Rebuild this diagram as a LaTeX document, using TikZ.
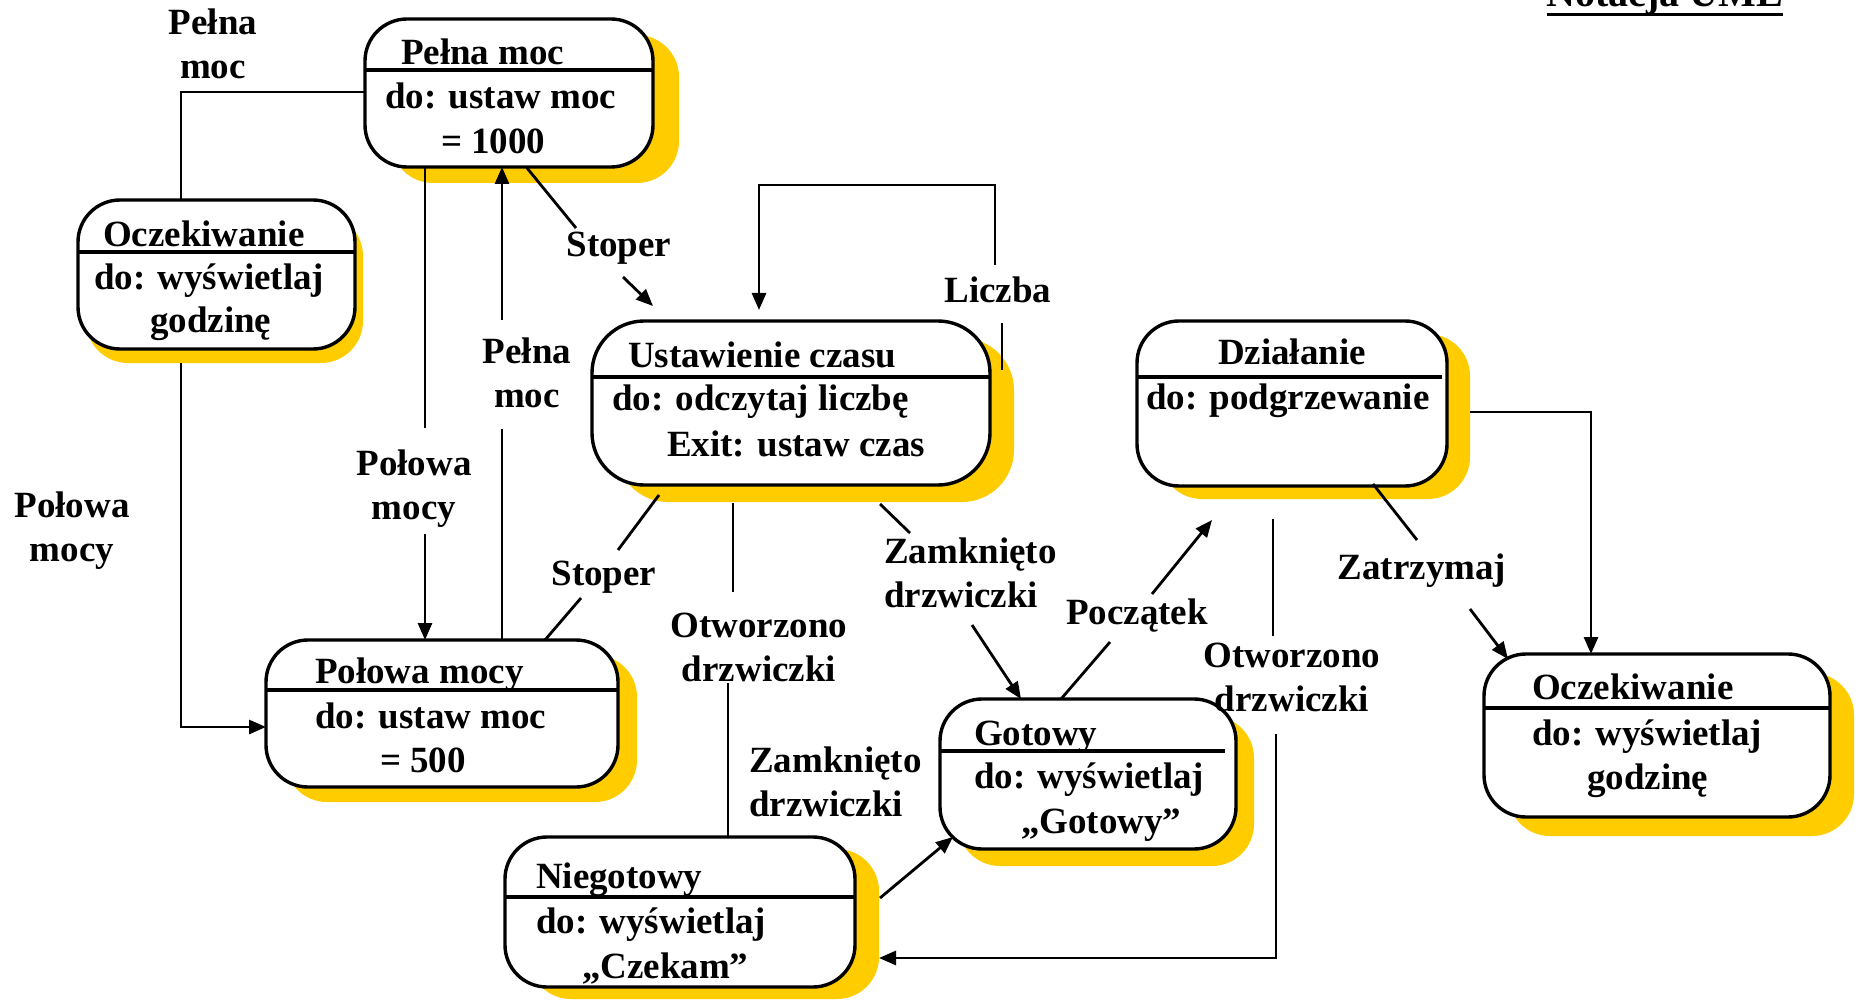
\documentclass[tikz,border=0pt]{standalone}
\usepackage{fontspec}
\setmainfont{Liberation Serif}
\usetikzlibrary{arrows.meta,shadows}
\definecolor{shadowyellow}{RGB}{255,204,0}
% two-line labels whose anchor is the baseline of the first line
\newcommand{\stackc}[2]{\begin{tabular}[t]{@{}c@{}}#1\\#2\end{tabular}}
\newcommand{\stackl}[2]{\begin{tabular}[t]{@{}l@{}}#1\\#2\end{tabular}}
\tikzset{
  every node/.style={inner sep=0pt, outer sep=0pt},
  bigfont/.style={font=\fontsize{37}{44}\selectfont\bfseries},
  txt/.style={bigfont, anchor=base west},
  lbl/.style={bigfont, anchor=base},
  lbll/.style={bigfont, anchor=base west},
  statebox/.style={rectangle, draw, line width=3.4pt, rounded corners=42pt, fill=white},
  sh/.style 2 args={drop shadow={shadow xshift=#1pt, shadow yshift=-#2pt, fill=shadowyellow, draw=none, opacity=1}},
  divider/.style={line width=3.2pt},
  conn/.style={line width=2.8pt},
  arr/.style={conn, -{Triangle[length=17pt,width=14pt]}},
}
\begin{document}
\begin{tikzpicture}[x=1pt,y=-1pt]
\useasboundingbox (0,0) rectangle (1858,1000);
\clip (0,0) rectangle (1858,1000);
\fill[white] (0,0) rectangle (1858,1000);

% ---------- title ----------
\node[font=\fontsize{40}{48}\selectfont\bfseries, anchor=base] (title) at (1665,7) {Notacja UML};
\draw[line width=3.5pt] ([yshift=-7.5pt]title.base west) -- ([yshift=-7.5pt]title.base east);

% ---------- states ----------
\node[statebox, sh={26}{16}, minimum width=288pt, minimum height=148pt] (pm) at (509,93) {};
\node[statebox, sh={8}{14}, minimum width=277pt, minimum height=149pt] (ocz1) at (216.5,274.5) {};
\node[statebox, sh={24}{17}, rounded corners=52pt, minimum width=398pt, minimum height=164pt] (ust) at (791,403) {};
\node[statebox, sh={23}{13}, minimum width=310pt, minimum height=165pt] (dzi) at (1292,403.5) {};
\node[statebox, sh={19}{15}, minimum width=352pt, minimum height=147pt] (pol) at (442,713.5) {};
\node[statebox, sh={18}{17}, minimum width=296pt, minimum height=150pt] (got) at (1088,774) {};
\node[statebox, sh={24}{12}, minimum width=350pt, minimum height=150pt] (nie) at (680,912) {};
\node[statebox, sh={24}{19}, minimum width=346pt, minimum height=163pt] (ocz2) at (1657,735.5) {};

% compartments
\draw[divider] ([yshift=-51pt]pm.north west) -- ([yshift=-51pt]pm.north east);
\draw[divider] ([yshift=-52pt]ocz1.north west) -- ([yshift=-52pt]ocz1.north east);
\draw[divider] ([yshift=-56pt]ust.north west) -- ([yshift=-56pt]ust.north east);
\draw[divider] ([yshift=-56pt]dzi.north west) -- ([xshift=-5pt,yshift=-56pt]dzi.north east);
\draw[divider] ([yshift=-50pt]pol.north west) -- ([yshift=-50pt]pol.north east);
\draw[divider] ([yshift=-52pt]got.north west) -- ([xshift=-11pt,yshift=-52pt]got.north east);
\draw[divider] ([yshift=-60pt]nie.north west) -- ([yshift=-60pt]nie.north east);
\draw[divider] ([yshift=-54pt]ocz2.north west) -- ([yshift=-54pt]ocz2.north east);

% state texts
\node[txt] (pm-n) at (401,65) {Pełna moc};
\node[txt] (pm-d1) at (385,109) {do: ustaw moc};
\node[txt] (pm-d2) at (441,154) {= 1000};

\node[txt] (ocz1-n) at (103,247) {Oczekiwanie};
\node[txt] (ocz1-d1) at (94,290) {do: wyświetlaj};
\node[txt] (ocz1-d2) at (150,333) {godzinę};

\node[txt] (ust-n) at (628,367) {Ustawienie czasu};
\node[txt] (ust-d1) at (612,410) {do: odczytaj liczbę};
\node[txt] (ust-d2) at (667,456) {Exit: ustaw czas};

\node[lbl] (dzi-n) at (1292,364) {Działanie};
\node[txt] (dzi-d1) at (1146,409) {do: podgrzewanie};

\node[txt] (pol-n) at (315,683) {Połowa mocy};
\node[txt] (pol-d1) at (315,728) {do: ustaw moc};
\node[txt] (pol-d2) at (380,772) {= 500};

\node[txt] (got-n) at (974,745) {Gotowy};
\node[txt] (got-d1) at (974,788) {do: wyświetlaj};
\node[txt] (got-d2) at (1021,833) {„Gotowy”};

\node[txt] (nie-n) at (536,888) {Niegotowy};
\node[txt] (nie-d1) at (536,933) {do: wyświetlaj};
\node[txt] (nie-d2) at (582,978) {„Czekam”};

\node[txt] (ocz2-n) at (1532,699) {Oczekiwanie};
\node[txt] (ocz2-d1) at (1532,745) {do: wyświetlaj};
\node[txt] (ocz2-d2) at (1587,789) {godzinę};

% ---------- transition labels ----------
\node[lbl] (l-pm1) at (213,35) {\stackc{Pełna}{moc}};
\node[lbl] (l-pol1) at (72,517) {\stackc{Połowa}{mocy}};
\node[lbl] (l-pol2) at (414,475) {\stackc{Połowa}{mocy}};
\node[lbl] (l-pm2) at (527,363) {\stackc{Pełna}{moc}};
\node[lbl] (l-st1) at (619,257) {Stoper};
\node[lbl] (l-lic) at (998,303) {Liczba};
\node[lbl] (l-st2) at (604,585) {Stoper};
\node[lbl] (l-otw1) at (759,637) {\stackc{Otworzono}{drzwiczki}};
\node[lbll] (l-zam1) at (884,563) {\stackl{Zamknięto}{drzwiczki}};
\node[lbll] (l-zam2) at (749,772) {\stackl{Zamknięto}{drzwiczki}};
\node[lbl] (l-pocz) at (1137,624) {Początek};
\node[lbl] (l-otw2) at (1292,667) {\stackc{Otworzono}{drzwiczki}};
\node[lbl] (l-zat) at (1422,579) {Zatrzymaj};

% ---------- transitions ----------
% Oczekiwanie -- Pełna moc
\coordinate (k1) at (181,92);
\draw[conn] (pm.west |- k1) -- (k1) -- (ocz1.north -| k1);

% Oczekiwanie -> Połowa mocy
\coordinate (k2a) at (181,363);
\coordinate (k2b) at (181,727);
\draw[arr] (k2a) -- (k2b) -- (pol.west |- k2b);

% Pełna moc -> Połowa mocy
\coordinate (k3a) at (425,428);
\coordinate (k3b) at (425,534);
\draw[conn] (pm.south -| k3a) -- (k3a);
\draw[arr] (k3b) -- (pol.north -| k3b);

% Połowa mocy -> Pełna moc
\coordinate (k4a) at (502,429);
\coordinate (k4b) at (502,320);
\draw[conn] (pol.north -| k4a) -- (k4a);
\draw[arr] (k4b) -- (pm.south -| k4b);

% Pełna moc -> Ustawienie czasu (Stoper)
\coordinate (k5a) at (527,168);
\coordinate (k5b) at (576,228);
\coordinate (k5c) at (623,277);
\coordinate (k5d) at (653,306);
\draw[conn] (k5a) -- (k5b);
\draw[arr] (k5c) -- (k5d);

% Ustawienie czasu -> Ustawienie czasu (Liczba)
\coordinate (k6a) at (1002,370);
\coordinate (k6b) at (1002,323);
\coordinate (k6c) at (995,265);
\coordinate (k6d) at (995,185);
\coordinate (k6e) at (759,185);
\coordinate (k6f) at (759,310);
\draw[conn] (k6a) -- (k6b);
\draw[arr] (k6c) -- (k6d) -- (k6e) -- (k6f);

% Ustawienie czasu -- Połowa mocy (Stoper)
\coordinate (k7a) at (659,495);
\coordinate (k7b) at (618,550);
\coordinate (k7c) at (581,598);
\coordinate (k7d) at (545,640);
\draw[conn] (k7a) -- (k7b);
\draw[conn] (k7c) -- (k7d);

% Ustawienie czasu -- Niegotowy (Otworzono drzwiczki)
\coordinate (k8a) at (733,503);
\coordinate (k8b) at (733,592);
\coordinate (k8c) at (728,683);
\draw[conn] (k8a) -- (k8b);
\draw[conn] (k8c) -- (nie.north -| k8c);

% Ustawienie czasu -> Gotowy (Zamknięto drzwiczki)
\coordinate (k9a) at (880,504);
\coordinate (k9b) at (910,533);
\coordinate (k9c) at (972,625);
\draw[conn] (k9a) -- (k9b);
\draw[arr] (k9c) -- (got.north -| 1021,0);

% Niegotowy -> Gotowy (Zamknięto drzwiczki)
\coordinate (k10a) at (880,898);
\coordinate (k10b) at (953,837);
\draw[arr] (k10a) -- (k10b);

% Gotowy -> Działanie (Początek)
\coordinate (k11a) at (1061,699);
\coordinate (k11b) at (1110,642);
\coordinate (k11c) at (1152,594);
\coordinate (k11d) at (1212,520);
\draw[conn] (k11a) -- (k11b);
\draw[arr] (k11c) -- (k11d);

% Działanie -> Niegotowy (Otworzono drzwiczki)
\coordinate (k12a) at (1273,519);
\coordinate (k12b) at (1273,636);
\coordinate (k12c) at (1276,734);
\coordinate (k12d) at (1276,958);
\coordinate (k12e) at (879,958);
\draw[conn] (k12a) -- (k12b);
\draw[arr] (k12c) -- (k12d) -- (k12e);

% Działanie -> Oczekiwanie (Zatrzymaj)
\coordinate (k13a) at (1373,484);
\coordinate (k13b) at (1417,540);
\coordinate (k13c) at (1470,609);
\coordinate (k13d) at (1508,659);
\draw[conn] (k13a) -- (k13b);
\draw[arr] (k13c) -- (k13d);

% Działanie -> Oczekiwanie
\coordinate (k14a) at (1470,412);
\coordinate (k14b) at (1591,412);
\draw[arr] (k14a) -- (k14b) -- (ocz2.north -| k14b);
\end{tikzpicture}
\end{document}
